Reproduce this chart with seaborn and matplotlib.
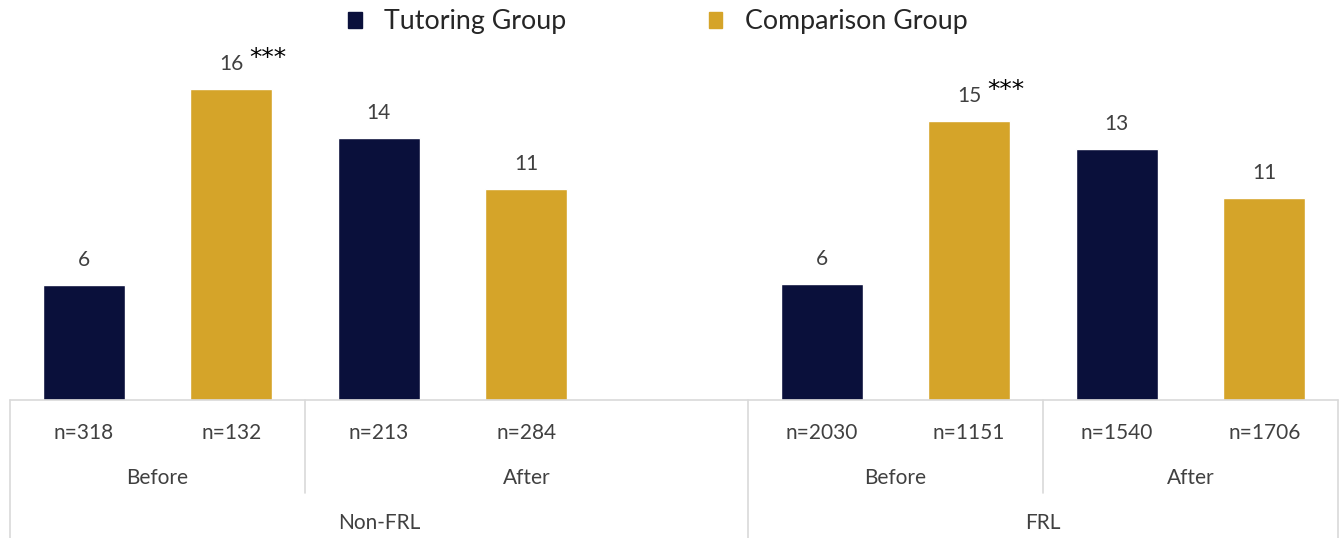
import numpy as np
import pandas as pd
import matplotlib
matplotlib.use("Agg")
import matplotlib.pyplot as plt
import matplotlib.transforms as mtransforms
from matplotlib.patches import Patch
import seaborn as sns

# --- data ---
subgroups = ["Non-FRL", "FRL"]
periods = ["Before", "After"]
groups = ["Tutoring Group", "Comparison Group"]
values = [5.93, 16.03, 13.5, 10.88, 5.98, 14.4, 12.94, 10.41]
value_labels = ["6", "16", "14", "11", "6", "15", "13", "11"]
sig = ["", "***", "", "", "", "***", "", ""]
n_labels = ["n=318", "n=132", "n=213", "n=284", "n=2030", "n=1151", "n=1540", "n=1706"]

NAVY = "#0a103b"
GOLD = "#d5a429"
GRID = "#d9d9d9"
TXT = "#404040"

# slots: 4 bars, one empty slot, 4 bars
slots = ["s0", "s1", "s2", "s3", "gap", "s5", "s6", "s7", "s8"]
bar_slots = [s for s in slots if s != "gap"]
rows = []
for i, s in enumerate(bar_slots):
    rows.append({"slot": s, "value": values[i], "group": groups[i % 2]})
df = pd.DataFrame(rows)

sns.set_theme(style="white")
plt.rcParams["font.family"] = ["Lato", "DejaVu Sans"]

fig = plt.figure(figsize=(13.42, 5.38), dpi=100)
W, H = 1342, 538
ax_top, ax_bot = 50, 400
ax = fig.add_axes([10 / W, (H - ax_bot) / H, 1328 / W, (ax_bot - ax_top) / H])

sns.barplot(data=df, x="slot", y="value", hue="group", order=slots,
            hue_order=groups, palette=[NAVY, GOLD], dodge=False,
            width=0.555, ax=ax, legend=False, saturation=1)

ax.set_xlim(-0.5, 8.5)
ax.set_ylim(0, (ax_bot - ax_top) / 19.4)
ax.set_xlabel("")
ax.set_ylabel("")
ax.set_xticks([])
ax.set_yticks([])
for sp in ax.spines.values():
    sp.set_visible(False)

# value labels (+ significance stars)
xpos = [slots.index(s) for s in bar_slots]
for x, v, lab, st in zip(xpos, values, value_labels, sig):
    ax.annotate(lab, (x, v), xytext=(0, 18), textcoords="offset points",
                ha="center", va="center", fontsize=15, color=TXT)
    if st:
        ax.annotate(st, (x, v), xytext=(13, 17), textcoords="offset points",
                    ha="left", va="baseline", fontsize=18, color="black",
                    family="DejaVu Sans")

# category table beneath the bars
trans = mtransforms.blended_transform_factory(ax.transData, ax.transAxes)
hpx = ax_bot - ax_top


def ay(py):
    return (ax_bot - py) / hpx


line_kw = dict(color=GRID, lw=1.2, transform=trans, clip_on=False)
ax.plot([-0.5, 8.5], [0, 0], **line_kw)
for xe in [-0.5, 4.5, 8.5]:
    ax.plot([xe, xe], [0, ay(538)], **line_kw)
for xe in [1.5, 6.5]:
    ax.plot([xe, xe], [0, ay(493)], **line_kw)

for x, n in zip(xpos, n_labels):
    ax.text(x, ay(433), n, transform=trans, ha="center", va="center",
            fontsize=15, color=TXT)

period_spans = [(-0.5, 1.5), (1.5, 4.5), (4.5, 6.5), (6.5, 8.5)]
for (a, b), p in zip(period_spans, periods * 2):
    ax.text((a + b) / 2, ay(478), p, transform=trans, ha="center",
            va="center", fontsize=15, color=TXT)

for (a, b), g in zip([(-0.5, 4.5), (4.5, 8.5)], subgroups):
    ax.text((a + b) / 2, ay(523), g, transform=trans, ha="center",
            va="center", fontsize=15, color=TXT)

# legend
handles = [Patch(color=NAVY, label=groups[0]), Patch(color=GOLD, label=groups[1])]
fig.legend(handles=handles, loc="center", bbox_to_anchor=(658 / W, 1 - 22 / H),
           ncol=2, frameon=False, fontsize=19.3, handlelength=0.5,
           handleheight=0.5, handletextpad=0.85, columnspacing=5.3)

fig.savefig("out.png", dpi=100)
